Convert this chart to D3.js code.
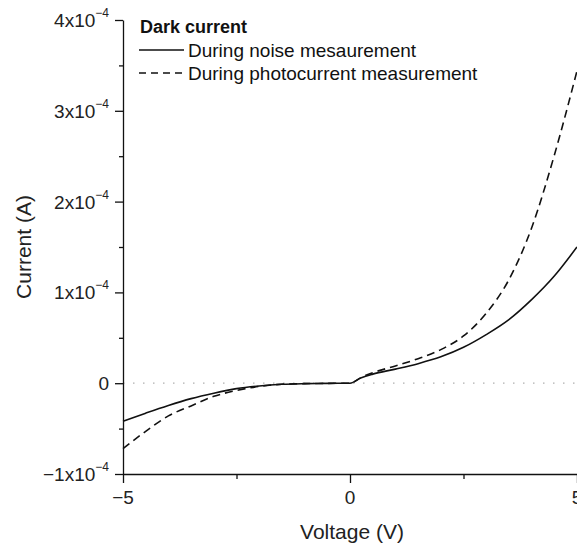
<!DOCTYPE html>
<html>
<head>
<meta charset="utf-8">
<script src="https://cdn.jsdelivr.net/npm/d3@7"></script>
<style>
  body { margin: 0; background: #fff; }
  svg { display: block; font-family: "Liberation Sans", Arial, sans-serif; }
</style>
</head>
<body>
<svg width="577" height="546"></svg>
<script>
const width = 577;
const height = 546;

// voltage (V) and dark current (units of 1e-4 A)
const voltage = [-5, -4.5, -4, -3.5, -3, -2.5, -2, -1.5, -1, -0.5, 0, 0.25, 0.5, 1, 1.5, 2, 2.5, 3, 3.5, 4, 4.5, 5];
const current_noise = [-0.42, -0.33, -0.245, -0.17, -0.11, -0.06, -0.03, -0.012, -0.005, -0.002, 0, 0.06, 0.10, 0.155, 0.215, 0.29, 0.395, 0.535, 0.70, 0.92, 1.18, 1.50];
const current_photo = [-0.72, -0.53, -0.36, -0.25, -0.145, -0.08, -0.035, -0.012, -0.005, -0.002, 0, 0.065, 0.115, 0.19, 0.27, 0.37, 0.52, 0.77, 1.14, 1.71, 2.51, 3.44];

const x_ticks = [-5, 0, 5];
const x_minor = [-2.5, 2.5];
const y_ticks = [-1, 0, 1, 2, 3, 4];
const y_minor = [-0.5, 0.5, 1.5, 2.5, 3.5];

const series = [
  { name: "During noise mesaurement", values: current_noise, dash: null },
  { name: "During photocurrent measurement", values: current_photo, dash: "8,5" }
];

const margin = { left: 123, right: 0, top: 20, bottom: 72 };
const x = d3.scaleLinear([-5, 5], [margin.left, width - margin.right]);
const y = d3.scaleLinear([-1, 4], [height - margin.bottom, margin.top]);

const svg = d3.select("svg");

// zero line
svg.append("line")
  .attr("x1", x(-5)).attr("x2", x(5))
  .attr("y1", y(0)).attr("y2", y(0))
  .attr("stroke", "#b0b0b0")
  .attr("stroke-width", 1.2)
  .attr("stroke-dasharray", "1.5,8.5");

// curves
const line = d3.line()
  .x((d, i) => x(voltage[i]))
  .y(d => y(d))
  .curve(d3.curveMonotoneX);

svg.append("g")
  .selectAll("path")
  .data(series)
  .join("path")
    .attr("fill", "none")
    .attr("stroke", "#111")
    .attr("stroke-width", 1.6)
    .attr("stroke-dasharray", d => d.dash)
    .attr("d", d => line(d.values));

// axes
const x_axis = svg.append("g")
  .attr("transform", `translate(0,${y(-1)})`)
  .call(d3.axisBottom(x).tickValues(x_ticks).tickSize(9).tickSizeOuter(0).tickFormat(""));
x_axis.append("g")
  .call(d3.axisBottom(x).tickValues(x_minor).tickSize(5).tickFormat(""))
  .select(".domain").remove();

const y_axis = svg.append("g")
  .attr("transform", `translate(${x(-5)},0)`)
  .call(d3.axisLeft(y).tickValues(y_ticks).tickSize(8).tickSizeOuter(0).tickFormat(""));
y_axis.append("g")
  .call(d3.axisLeft(y).tickValues(y_minor).tickSize(4).tickFormat(""))
  .select(".domain").remove();

svg.selectAll(".domain, .tick line")
  .attr("stroke", "#111")
  .attr("stroke-width", 1.3);

// tick labels
svg.append("g")
  .selectAll("text")
  .data(x_ticks)
  .join("text")
    .attr("x", d => x(d))
    .attr("y", y(-1) + 30)
    .attr("text-anchor", "middle")
    .attr("font-size", 19)
    .attr("fill", "#222")
    .text(d => d < 0 ? "\u2212" + Math.abs(d) : d);

const y_labels = svg.append("g")
  .selectAll("text")
  .data(y_ticks)
  .join("text")
    .attr("x", x(-5) - 14)
    .attr("y", d => y(d) + 7)
    .attr("text-anchor", "end")
    .attr("font-size", 19)
    .attr("fill", "#222");
y_labels.each(function(d) {
  const t = d3.select(this);
  if (d === 0) { t.text("0"); return; }
  t.append("tspan").text((d < 0 ? "\u2212" : "") + Math.abs(d) + "x10");
  t.append("tspan").attr("font-size", 12).attr("dy", -10).text("\u22124");
});

// axis titles
svg.append("text")
  .attr("x", (x(-5) + x(5)) / 2 + 2)
  .attr("y", height - 7)
  .attr("text-anchor", "middle")
  .attr("font-size", 21)
  .attr("fill", "#222")
  .text("Voltage (V)");

svg.append("text")
  .attr("transform", `translate(31,${(y(-1) + y(4)) / 2}) rotate(-90)`)
  .attr("text-anchor", "middle")
  .attr("font-size", 21)
  .attr("fill", "#222")
  .text("Current (A)");

// legend
const legend = svg.append("g").attr("transform", "translate(139,0)");
legend.append("text")
  .attr("x", 1).attr("y", 33)
  .attr("font-size", 18)
  .attr("font-weight", "bold")
  .attr("fill", "#111")
  .text("Dark current");
const item = legend.selectAll("g.item")
  .data(series)
  .join("g")
    .attr("class", "item")
    .attr("transform", (d, i) => `translate(0,${50 + i * 23})`);
item.append("line")
  .attr("x1", 0).attr("x2", 45)
  .attr("stroke", "#111")
  .attr("stroke-width", 1.4)
  .attr("stroke-dasharray", d => d.dash ? "7,5" : null);
item.append("text")
  .attr("x", 49).attr("y", 7)
  .attr("font-size", 19)
  .attr("fill", "#111")
  .text(d => d.name);
</script>
</body>
</html>
